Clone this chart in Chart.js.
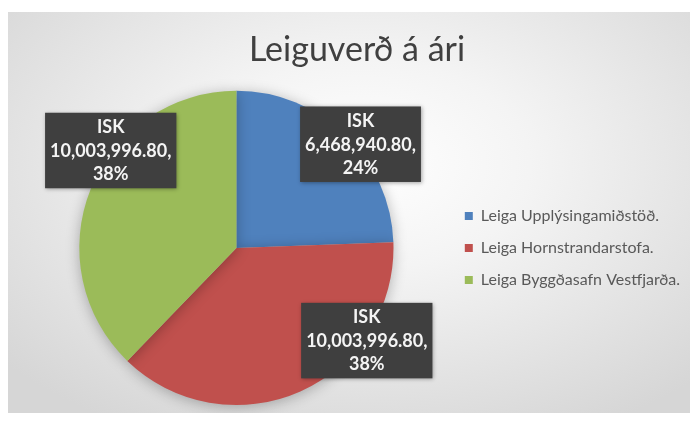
<!DOCTYPE html>
<html>
<head>
<meta charset="utf-8">
<script src="https://cdn.jsdelivr.net/npm/chart.js@4"></script>
<style>
  html, body { margin: 0; padding: 0; background: #ffffff; overflow: hidden; }
  #frame {
    position: absolute; left: 8px; top: 12px; width: 682px; height: 401px;
    background: radial-gradient(ellipse 70% 75% at 52% 38%, #ffffff 0%, #f4f4f4 35%, #d6d6d6 100%);
    overflow: hidden;
  }
  canvas { display: block; }
</style>
</head>
<body>
<div id="frame"><canvas id="pie" width="682" height="401"></canvas></div>
<script>
// Chart data.
const labels = ["Leiga Upplýsingamiðstöð.", "Leiga Hornstrandarstofa.", "Leiga Byggðasafn Vestfjarða."];
const values = [6468940.80, 10003996.80, 10003996.80];
const colors = ["#4f81bd", "#c0504d", "#9bbb59"];

// Where each data label box sits, as a fraction of the pie radius from its centre.
const labelOffsets = [[0.79, -0.66], [0.83, 0.59], [-0.80, -0.62]];

const total = values.reduce((a, b) => a + b, 0);

// Soft shadow under the pie, like the Office chart.
const pieShadow = {
  id: "pieShadow",
  beforeDatasetsDraw(chart) {
    const ctx = chart.ctx;
    ctx.save();
    ctx.shadowColor = "rgba(0, 0, 0, 0.28)";
    ctx.shadowBlur = 14;
    ctx.shadowOffsetY = 2;
  },
  afterDatasetsDraw(chart) {
    chart.ctx.restore();
  }
};

// Dark callout boxes with "ISK value, pct%".
const boxLabels = {
  id: "boxLabels",
  afterDatasetsDraw(chart) {
    const ctx = chart.ctx;
    const meta = chart.getDatasetMeta(0);
    meta.data.forEach((arc, i) => {
      const r = arc.outerRadius;
      const cx = arc.x + labelOffsets[i][0] * r;
      const cy = arc.y + labelOffsets[i][1] * r;
      const lines = [
        "ISK",
        values[i].toLocaleString("en-US", { minimumFractionDigits: 2, maximumFractionDigits: 2 }) + ",",
        Math.round(values[i] / total * 100) + "%"
      ];
      ctx.save();
      ctx.font = "bold 18px Lato";
      const w = Math.max(...lines.map((t) => ctx.measureText(t).width)) + 10;
      const lh = 23.5;
      const h = lh * lines.length + 5;
      ctx.shadowColor = "rgba(0, 0, 0, 0.35)";
      ctx.shadowBlur = 4;
      ctx.shadowOffsetX = 1;
      ctx.shadowOffsetY = 1;
      ctx.fillStyle = "#3f3f3f";
      ctx.fillRect(cx - w / 2, cy - h / 2, w, h);
      ctx.shadowColor = "transparent";
      ctx.fillStyle = "#f4f4f4";
      ctx.textAlign = "center";
      ctx.textBaseline = "middle";
      lines.forEach((t, k) => {
        ctx.fillText(t, cx, cy - h / 2 + 3 + lh * k + lh / 2);
      });
      ctx.restore();
    });
  }
};

new Chart(document.getElementById("pie"), {
  type: "pie",
  data: {
    labels: labels,
    datasets: [{
      data: values,
      backgroundColor: colors,
      borderWidth: 0
    }]
  },
  options: {
    responsive: false,
    animation: false,
    layout: { padding: { left: 16, right: 0, top: 0, bottom: 8 } },
    plugins: {
      title: {
        display: true,
        text: "Leiguverð á ári",
        color: "#404040",
        font: { family: "Lato", size: 34, weight: "normal" },
        padding: { top: 18, bottom: 20 }
      },
      legend: {
        position: "right",
        fullSize: false,
        labels: {
          color: "#595959",
          font: { family: "Lato", size: 16 },
          boxWidth: 8,
          boxHeight: 8,
          padding: 16
        }
      },
      tooltip: { enabled: false }
    }
  },
  plugins: [pieShadow, boxLabels]
});
</script>
</body>
</html>
